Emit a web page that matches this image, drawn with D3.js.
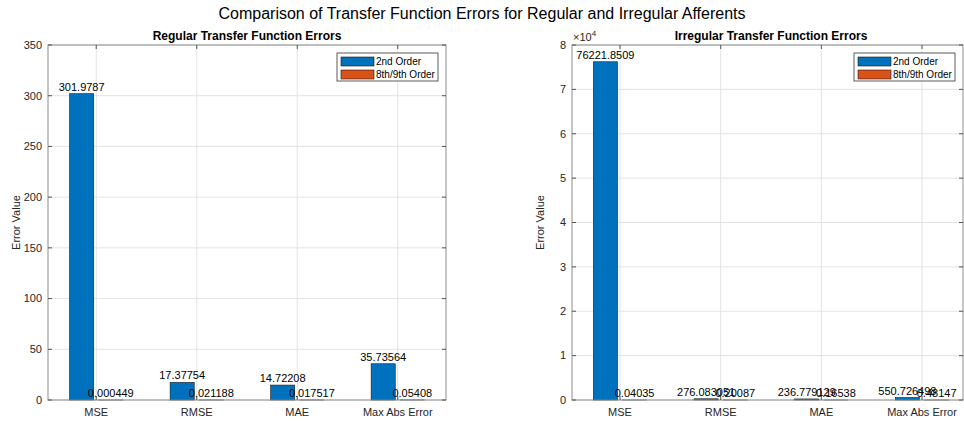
<!DOCTYPE html>
<html>
<head>
<meta charset="utf-8">
<script src="https://cdn.jsdelivr.net/npm/d3@7"></script>
<style>
    body { margin: 0; background: #fff; }
    svg { font-family: "Liberation Sans", Arial, sans-serif; display: block; }
</style>
</head>
<body>
<div id="chart"></div>
<script>
const categories = ['MSE', 'RMSE', 'MAE', 'Max Abs Error'];
const seriesNames = ['2nd Order', '8th/9th Order'];
const colors = ['#0072BD', '#D95319'];

const regular2nd = [301.9787, 17.37754, 14.72208, 35.73564];
const regularHigh = [0.000449, 0.021188, 0.017517, 0.05408];
const regularLabels2nd = ['301.9787', '17.37754', '14.72208', '35.73564'];
const regularLabelsHigh = ['0.000449', '0.021188', '0.017517', '0.05408'];
const regularTicks = [0, 50, 100, 150, 200, 250, 300, 350];

const irregular2nd = [76221.8509, 276.083051, 236.779129, 550.726498];
const irregularHigh = [0.04035, 0.20087, 0.16538, 0.48147];
const irregularLabels2nd = ['76221.8509', '276.083051', '236.779129', '550.726498'];
const irregularLabelsHigh = ['0.04035', '0.20087', '0.16538', '0.48147'];
const irregularTicks = [0, 1, 2, 3, 4, 5, 6, 7, 8];

const W = 964, H = 424;
const svg = d3.select('#chart').append('svg')
    .attr('width', W)
    .attr('height', H);

svg.append('text')
    .attr('x', 482)
    .attr('y', 19)
    .attr('text-anchor', 'middle')
    .attr('font-size', 16)
    .attr('fill', '#000')
    .text('Comparison of Transfer Function Errors for Regular and Irregular Afferents');

function drawPanel(opts) {
    const { x0, x1, xDomain, yMax, ticks, tickScale, s1, s2, l1, l2, title, exponent } = opts;
    const top = 45, bottom = 400;
    const x = d3.scaleLinear().domain(xDomain).range([x0, x1]);
    const y = d3.scaleLinear().domain([0, yMax]).range([bottom, top]);
    const g = svg.append('g');

    // grid
    g.selectAll('line.hgrid')
        .data(ticks)
        .join('line')
        .attr('class', 'hgrid')
        .attr('x1', x0).attr('x2', x1)
        .attr('y1', d => y(d * tickScale)).attr('y2', d => y(d * tickScale))
        .attr('stroke', '#e3e3e3')
        .attr('stroke-width', 1);

    g.selectAll('line.vgrid')
        .data(categories)
        .join('line')
        .attr('class', 'vgrid')
        .attr('x1', (d, i) => x(i + 1)).attr('x2', (d, i) => x(i + 1))
        .attr('y1', top).attr('y2', bottom)
        .attr('stroke', '#e3e3e3')
        .attr('stroke-width', 1);

    const bw = x(0.24) - x(0);
    const off = 0.145;

    // bars
    const rows = [];
    categories.forEach((c, i) => {
        rows.push({ pos: i + 1 - off, v: s1[i], label: l1[i], color: colors[0] });
        rows.push({ pos: i + 1 + off, v: s2[i], label: l2[i], color: colors[1] });
    });

    g.selectAll('rect.bar')
        .data(rows)
        .join('rect')
        .attr('class', 'bar')
        .attr('x', d => x(d.pos) - bw / 2)
        .attr('width', bw)
        .attr('y', d => y(d.v))
        .attr('height', d => Math.max(bottom - y(d.v), 0))
        .attr('fill', d => d.color)
        .attr('stroke', '#1a1a1a')
        .attr('stroke-width', 0.6);

    // axes box
    g.append('rect')
        .attr('x', x0).attr('y', top)
        .attr('width', x1 - x0).attr('height', bottom - top)
        .attr('fill', 'none')
        .attr('stroke', '#8c8c8c')
        .attr('stroke-width', 1);

    // tick marks
    g.selectAll('line.ytickL')
        .data(ticks)
        .join('line')
        .attr('x1', x0).attr('x2', x0 + 4)
        .attr('y1', d => y(d * tickScale)).attr('y2', d => y(d * tickScale))
        .attr('stroke', '#555');
    g.selectAll('line.ytickR')
        .data(ticks)
        .join('line')
        .attr('x1', x1).attr('x2', x1 - 4)
        .attr('y1', d => y(d * tickScale)).attr('y2', d => y(d * tickScale))
        .attr('stroke', '#555');
    g.selectAll('line.xtickB')
        .data(categories)
        .join('line')
        .attr('x1', (d, i) => x(i + 1)).attr('x2', (d, i) => x(i + 1))
        .attr('y1', bottom).attr('y2', bottom - 4)
        .attr('stroke', '#555');
    g.selectAll('line.xtickT')
        .data(categories)
        .join('line')
        .attr('x1', (d, i) => x(i + 1)).attr('x2', (d, i) => x(i + 1))
        .attr('y1', top).attr('y2', top + 4)
        .attr('stroke', '#555');

    // bar labels
    g.selectAll('text.blabel')
        .data(rows)
        .join('text')
        .attr('class', 'blabel')
        .attr('x', d => x(d.pos))
        .attr('y', d => y(d.v) - 3)
        .attr('text-anchor', 'middle')
        .attr('font-size', 11)
        .attr('fill', '#000')
        .text(d => d.label);

    // y tick labels
    g.selectAll('text.ylab')
        .data(ticks)
        .join('text')
        .attr('x', x0 - 6)
        .attr('y', d => y(d * tickScale))
        .attr('dy', '0.35em')
        .attr('text-anchor', 'end')
        .attr('font-size', 11)
        .attr('fill', '#262626')
        .text(d => d);

    // x tick labels
    g.selectAll('text.xlab')
        .data(categories)
        .join('text')
        .attr('x', (d, i) => x(i + 1))
        .attr('y', 416)
        .attr('text-anchor', 'middle')
        .attr('font-size', 11)
        .attr('fill', '#262626')
        .text(d => d);

    // y axis label
    g.append('text')
        .attr('transform', `translate(${x0 - 28},${(top + bottom) / 2}) rotate(-90)`)
        .attr('text-anchor', 'middle')
        .attr('font-size', 11)
        .attr('fill', '#262626')
        .text('Error Value');

    // title
    g.append('text')
        .attr('x', (x0 + x0 + 398) / 2)
        .attr('y', 40)
        .attr('text-anchor', 'middle')
        .attr('font-size', 12)
        .attr('font-weight', 'bold')
        .attr('fill', '#000')
        .text(title);

    if (exponent) {
        const ex = g.append('text')
            .attr('x', x0 + 1)
            .attr('y', 41)
            .attr('font-size', 11)
            .attr('fill', '#262626');
        ex.append('tspan').text('\u00d710');
        ex.append('tspan').attr('dy', -5).attr('font-size', 8).text(exponent);
    }

    // legend
    const lw = 101, lh = 28;
    const lx = x1 - 8 - lw, ly = 53;
    const legend = g.append('g').attr('transform', `translate(${lx},${ly})`);
    legend.append('rect')
        .attr('width', lw).attr('height', lh)
        .attr('fill', '#fff')
        .attr('stroke', '#333')
        .attr('stroke-width', 0.8);
    seriesNames.forEach((name, i) => {
        legend.append('rect')
            .attr('x', 4).attr('y', 4 + i * 13)
            .attr('width', 33).attr('height', 9)
            .attr('fill', colors[i])
            .attr('stroke', '#1a1a1a')
            .attr('stroke-width', 0.6);
        legend.append('text')
            .attr('x', 39).attr('y', 8.5 + i * 13)
            .attr('dy', '0.35em')
            .attr('font-size', 10)
            .attr('fill', '#000')
            .text(name);
    });
}

drawPanel({
    x0: 48, x1: 446, xDomain: [0.52, 4.48], yMax: 350,
    ticks: regularTicks, tickScale: 1,
    s1: regular2nd, s2: regularHigh, l1: regularLabels2nd, l2: regularLabelsHigh,
    title: 'Regular Transfer Function Errors'
});

drawPanel({
    x0: 572, x1: 963, xDomain: [0.523, 4.407], yMax: 80000,
    ticks: irregularTicks, tickScale: 10000,
    s1: irregular2nd, s2: irregularHigh, l1: irregularLabels2nd, l2: irregularLabelsHigh,
    title: 'Irregular Transfer Function Errors', exponent: '4'
});
</script>
</body>
</html>
